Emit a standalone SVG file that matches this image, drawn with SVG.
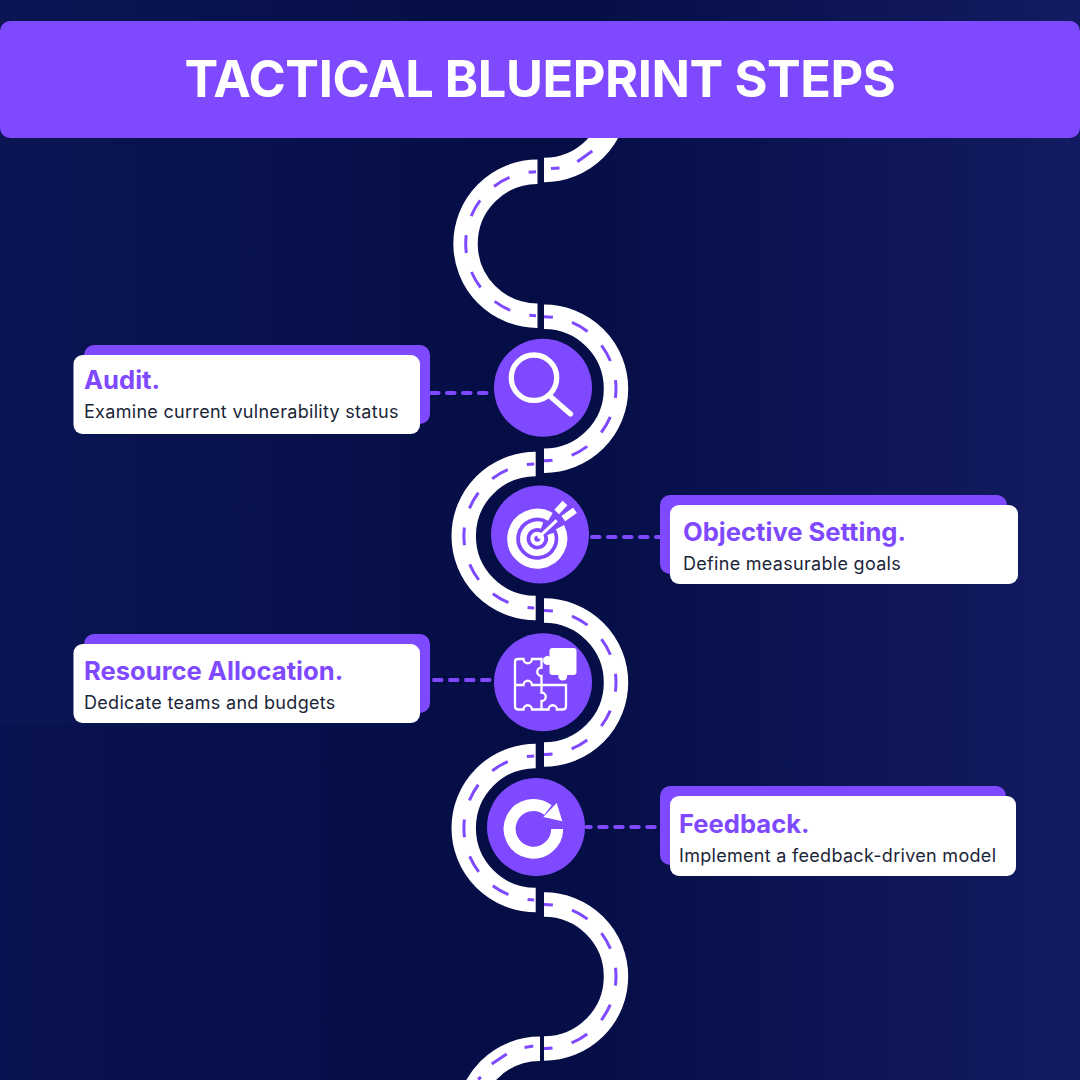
<svg xmlns="http://www.w3.org/2000/svg" width="1080" height="1080" viewBox="0 0 1080 1080">
<defs>
<linearGradient id="bg" x1="0" y1="0" x2="1" y2="0"><stop offset="0" stop-color="#091250"/><stop offset="0.5" stop-color="#040d44"/><stop offset="1" stop-color="#131b62"/></linearGradient>
<linearGradient id="lt" x1="0" y1="0" x2="1" y2="0"><stop offset="0" stop-color="#0b1554"/><stop offset="1" stop-color="#040d44"/></linearGradient>
</defs>
<style>
.road{fill:none;stroke:#fff;stroke-width:24.4}
.lane{fill:none;stroke:#7f49ff;stroke-width:3;stroke-dasharray:18 19.7}
.lane2{fill:none;stroke:#7f49ff;stroke-width:3}
.link{fill:none;stroke:#7f49ff;stroke-width:4;stroke-linecap:round;stroke-dasharray:7.5 8.5}
.back{fill:#7f49ff}
.front{fill:#fff}
.disc{fill:#7f49ff}
.h{font-family:"Inter","Liberation Sans",sans-serif;font-weight:700;font-size:25.6px;fill:#7f49ff}
.b{font-family:"Inter","Liberation Sans",sans-serif;font-size:18px;letter-spacing:.3px;fill:#1b2538}
.ico{fill:none;stroke:#fff}
</style>
<rect width="1080" height="1080" fill="url(#bg)"/>
<rect width="540" height="725" fill="url(#lt)"/>
<g id="connectors">
<path class="road" d="M544 170A72 72 0 0 0 616 98"/>
<path class="lane2" d="M551 168.500L559.500 168M577.300 161.700L592.300 151"/>
<path class="road" d="M537.500 171.700A72 72 0 0 0 537.500 315.700"/>
<path class="lane" stroke-dashoffset="10.500" d="M536 171.720A72 72 0 0 0 536 315.680"/>
<path class="road" d="M544 316.800A72 72 0 0 1 544 460.800"/>
<path class="lane" stroke-dashoffset="9" d="M544 316.800A72 72 0 0 1 544 460.800"/>
<path class="road" d="M535.700 464A72 72 0 0 0 535.700 608"/>
<path class="lane" stroke-dashoffset="10.500" d="M534.200 464.020A72 72 0 0 0 534.200 607.980"/>
<path class="road" d="M544 610.500A72 72 0 0 1 544 754.500"/>
<path class="lane" stroke-dashoffset="9" d="M544 610.500A72 72 0 0 1 544 754.500"/>
<path class="road" d="M535.700 756A72 72 0 0 0 535.700 900"/>
<path class="lane" stroke-dashoffset="10.500" d="M534.200 756.020A72 72 0 0 0 534.200 899.980"/>
<path class="road" d="M544 904.500A72 72 0 0 1 544 1048.500"/>
<path class="lane" stroke-dashoffset="9" d="M544 904.500A72 72 0 0 1 544 1048.500"/>
<path class="road" d="M540 1048.700A72 72 0 0 0 468 1120.700"/>
<path class="lane2" d="M524.500 1047.500L533.300 1046M491.700 1064L506.700 1054M478 1079.500L481 1077"/>
<path class="link" d="M431 393H494"/>
<path class="link" d="M592 537H660"/>
<path class="link" d="M434 680H490"/>
<path class="link" stroke-dashoffset="3.500" d="M586.700 827H656"/>
</g>
<g id="header"><rect y="21" width="1080" height="117" rx="10" fill="#7f49ff"/>
<text x="540" y="97.300" text-anchor="middle" font-family="Inter, Liberation Sans, Arial, sans-serif" font-weight="700" font-size="50.500" letter-spacing="-.43" fill="#fff">TACTICAL BLUEPRINT STEPS</text></g>
<g id="audit">
<rect class="back" x="84" y="345" width="346" height="79" rx="10"/><rect class="front" x="73.500" y="355" width="346.500" height="79" rx="9"/>
<text class="h" x="84" y="388.500">Audit.</text><text class="b" x="84" y="417.700">Examine current vulnerability status</text></g>
<g id="objective">
<rect class="back" x="660" y="495" width="347" height="79" rx="10"/><rect class="front" x="670" y="505" width="348" height="79" rx="9"/>
<text class="h" x="683" y="541">Objective Setting.</text><text class="b" x="683" y="570">Define measurable goals</text></g>
<g id="resource">
<rect class="back" x="84" y="634" width="346" height="79" rx="10"/><rect class="front" x="73.500" y="644" width="346.500" height="79" rx="9"/>
<text class="h" x="84" y="680">Resource Allocation.</text><text class="b" x="84" y="708.500">Dedicate teams and budgets</text></g>
<g id="feedback">
<rect class="back" x="660" y="786" width="346" height="79" rx="10"/><rect class="front" x="670" y="796" width="346" height="80" rx="9"/>
<text class="h" x="679" y="833">Feedback.</text><text class="b" x="679" y="861.700">Implement a feedback-driven model</text></g>
<g id="step-audit"><circle class="disc" cx="543" cy="387.700" r="49"/>
<circle class="ico" cx="534" cy="377.700" r="22.700" stroke-width="5.300"/><path class="ico" stroke-width="5.300" stroke-linecap="round" d="M551 397L570.500 414"/></g>
<g id="step-objective"><circle class="disc" cx="540" cy="534.500" r="49"/>
<path class="ico" stroke-width="9" d="M550.400 516.800A25.500 25.500 0 1 0 560 527.100"/>
<path class="ico" stroke-width="6.600" d="M542.100 525.500A14 14 0 1 0 550.500 533.900"/>
<circle class="ico" cx="537.300" cy="538.700" r="5" stroke-width="4"/>
<path class="ico" stroke-width="3" d="M538 538L556.700 520.300"/><path class="ico" stroke-width="6.500" d="M556.700 512L565 503M563.300 518.700L575 510.300"/></g>
<g id="step-resource"><circle class="disc" cx="543" cy="682.300" r="49"/>
<rect x="549.500" y="648" width="27" height="27" rx="3" fill="#fff"/><circle cx="547.500" cy="660.500" r="4.500" fill="#fff"/><circle cx="562.700" cy="676" r="4.500" fill="#fff"/>
<path class="ico" stroke-width="2.300" d="M515 662Q515 659 518 659H523.500A4.200 4.200 0 0 0 532 659H541.500V667.500A4.200 4.200 0 0 0 541.500 676V685H532A4.200 4.200 0 0 0 523.500 685H515ZM515 685V706Q515 709.500 518 709.500H523.500A4.200 4.200 0 0 1 532 709.500H548.500A4.200 4.200 0 0 1 557 709.500H563Q566 709.500 566 706V685H541.500V692.500A4.200 4.200 0 0 1 541.500 701V709.500"/></g>
<g id="step-feedback"><circle class="disc" cx="536" cy="827" r="49"/>
<path class="ico" stroke-width="12" d="M557.200 829A23.800 23.800 0 1 1 548 810"/><path fill="#fff" d="M556.700 803L562.300 821.300L543.300 817Z"/></g>
</svg>
